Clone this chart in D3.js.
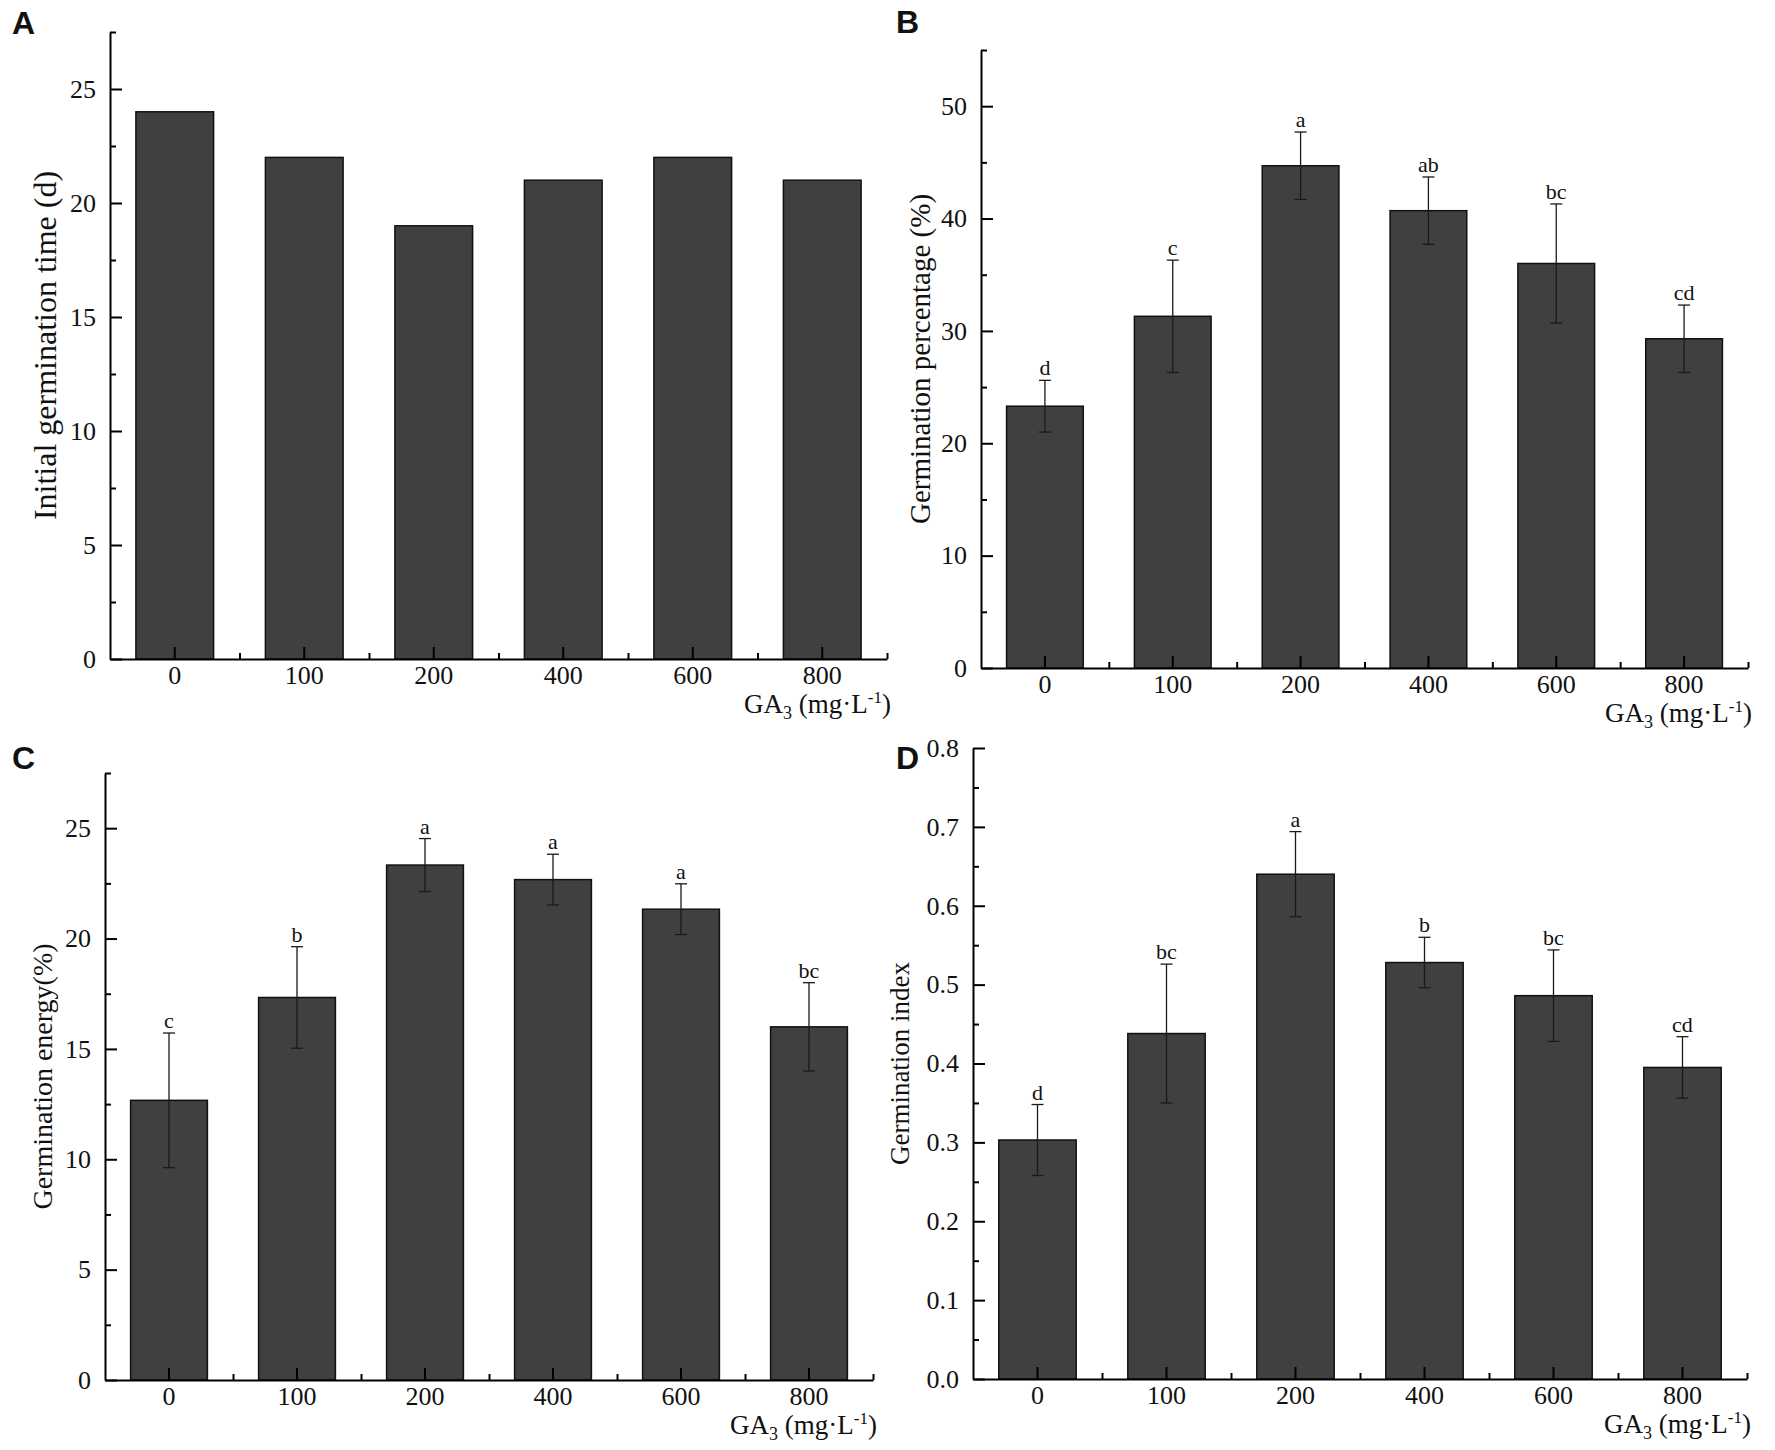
<!DOCTYPE html>
<html>
<head>
<meta charset="utf-8">
<script src="https://cdn.jsdelivr.net/npm/d3@7"></script>
<style>
  body { margin: 0; background: #fff; }
  text { font-family: "Liberation Serif", "Times New Roman", serif; fill: #111; }
  .panel-label { font-family: "Liberation Sans", Arial, sans-serif; font-weight: bold; font-size: 32px; }
</style>
</head>
<body>
<div id="chart-area"></div>
<script>
// GA3 dose categories
var doses = ["0", "100", "200", "400", "600", "800"];

// A: initial germination time (d)
var initialTime = [24, 22, 19, 21, 22, 21];
var ticksA = [0, 5, 10, 15, 20, 25];

// B: germination percentage (%)
var germPercent = [23.3, 31.3, 44.7, 40.7, 36.0, 29.3];
var germPercentErr = [2.3, 5.0, 3.0, 3.0, 5.3, 3.0];
var germPercentLetters = ["d", "c", "a", "ab", "bc", "cd"];
var ticksB = [0, 10, 20, 30, 40, 50];

// C: germination energy (%)
var germEnergy = [12.67, 17.33, 23.33, 22.67, 21.33, 16.0];
var germEnergyErr = [3.05, 2.3, 1.2, 1.15, 1.15, 2.0];
var germEnergyLetters = ["c", "b", "a", "a", "a", "bc"];
var ticksC = [0, 5, 10, 15, 20, 25];

// D: germination index
var germIndex = [0.303, 0.438, 0.64, 0.528, 0.486, 0.395];
var germIndexErr = [0.045, 0.088, 0.054, 0.032, 0.058, 0.039];
var germIndexLetters = ["d", "bc", "a", "b", "bc", "cd"];
var ticksD = [0, 0.1, 0.2, 0.3, 0.4, 0.5, 0.6, 0.7, 0.8];

var width = 1775;
var height = 1450;

var svg = d3.select("#chart-area")
    .append("svg")
    .attr("width", width)
    .attr("height", height);

function drawPanel(p) {
    var g = svg.append("g");

    var x = d3.scaleBand()
        .domain(doses)
        .range([p.x0, p.x1])
        .paddingInner(0.4)
        .paddingOuter(0.2);

    var y = d3.scaleLinear()
        .domain([0, p.ymax])
        .range([p.yb, p.yt]);

    // bars
    g.selectAll("rect.bar")
        .data(p.values)
        .enter()
        .append("rect")
        .attr("class", "bar")
        .attr("x", function(d, i) { return x(doses[i]); })
        .attr("y", function(d) { return y(d); })
        .attr("width", x.bandwidth())
        .attr("height", function(d) { return y(0) - y(d); })
        .attr("fill", "#404040")
        .attr("stroke", "#111")
        .attr("stroke-width", 1.5);

    // error bars
    if (p.errors) {
        var cap = 6;
        var eb = g.selectAll("g.err")
            .data(p.values)
            .enter()
            .append("g")
            .attr("class", "err")
            .attr("stroke", "#1a1a1a")
            .attr("stroke-width", 1.3);
        eb.append("line")
            .attr("x1", function(d, i) { return x(doses[i]) + x.bandwidth() / 2; })
            .attr("x2", function(d, i) { return x(doses[i]) + x.bandwidth() / 2; })
            .attr("y1", function(d, i) { return y(d - p.errors[i]); })
            .attr("y2", function(d, i) { return y(d + p.errors[i]); });
        eb.append("line")
            .attr("x1", function(d, i) { return x(doses[i]) + x.bandwidth() / 2 - cap; })
            .attr("x2", function(d, i) { return x(doses[i]) + x.bandwidth() / 2 + cap; })
            .attr("y1", function(d, i) { return y(d + p.errors[i]); })
            .attr("y2", function(d, i) { return y(d + p.errors[i]); });
        eb.append("line")
            .attr("x1", function(d, i) { return x(doses[i]) + x.bandwidth() / 2 - cap; })
            .attr("x2", function(d, i) { return x(doses[i]) + x.bandwidth() / 2 + cap; })
            .attr("y1", function(d, i) { return y(d - p.errors[i]); })
            .attr("y2", function(d, i) { return y(d - p.errors[i]); });

        g.selectAll("text.sig")
            .data(p.letters)
            .enter()
            .append("text")
            .attr("class", "sig")
            .attr("x", function(d, i) { return x(doses[i]) + x.bandwidth() / 2; })
            .attr("y", function(d, i) { return y(p.values[i] + p.errors[i]) - 5; })
            .attr("text-anchor", "middle")
            .style("font-size", "22px")
            .text(function(d) { return d; });
    }

    // y axis: major + minor ticks pointing inward
    var minorY = [];
    for (var k = 0; k < p.ticks.length; k++) {
        minorY.push(p.ticks[k] + p.step / 2);
    }
    g.append("g")
        .attr("transform", "translate(" + p.x0 + ",0)")
        .call(d3.axisLeft(y).tickValues(minorY.filter(function(v) { return v <= p.ymax + 1e-9; }))
            .tickSize(-6).tickSizeOuter(0).tickFormat(""))
        .call(function(a) { a.select(".domain").remove(); });

    g.append("g")
        .attr("transform", "translate(" + p.x0 + ",0)")
        .call(d3.axisLeft(y).tickValues(p.ticks).tickSize(-12).tickSizeOuter(0)
            .tickPadding(14).tickFormat(p.fmt));

    // x axis
    var idx = d3.scaleLinear().domain([0, doses.length]).range([p.x0, p.x1]);
    g.append("g")
        .attr("transform", "translate(0," + p.yb + ")")
        .call(d3.axisBottom(idx).tickValues([1, 2, 3, 4, 5, 6])
            .tickSize(-6).tickSizeOuter(0).tickFormat(""))
        .call(function(a) { a.select(".domain").remove(); });

    g.append("g")
        .attr("transform", "translate(0," + p.yb + ")")
        .call(d3.axisBottom(x).tickSize(-12).tickSizeOuter(0).tickPadding(7));

    g.selectAll(".domain, .tick line")
        .attr("stroke", "#000")
        .attr("stroke-width", 2);
    g.selectAll(".tick text")
        .style("font-family", "'Liberation Serif', 'Times New Roman', serif")
        .style("font-size", "26px")
        .attr("fill", "#111");

    // y title
    g.append("text")
        .attr("transform", "translate(" + p.titleX + "," + ((p.yt + p.yb) / 2) + ") rotate(-90)")
        .attr("text-anchor", "middle")
        .style("font-size", p.titleSize + "px")
        .text(p.title);

    // x title: GA3 (mg·L-1)
    var xt = g.append("text")
        .attr("x", p.x1 + 4)
        .attr("y", p.yb + 54)
        .attr("text-anchor", "end")
        .style("font-size", "27px");
    xt.append("tspan").text("GA");
    xt.append("tspan").attr("dy", 6).style("font-size", "18px").text("3");
    xt.append("tspan").attr("dy", -6).text(" (mg·L");
    xt.append("tspan").attr("dy", -10).style("font-size", "17px").text("-1");
    xt.append("tspan").attr("dy", 10).text(")");

    // panel letter
    svg.append("text")
        .attr("class", "panel-label")
        .attr("x", p.labelX)
        .attr("y", p.labelY)
        .text(p.label);
}

drawPanel({
    label: "A", labelX: 12, labelY: 34,
    x0: 110, x1: 887, yt: 32, yb: 659, ymax: 27.5, step: 5,
    ticks: ticksA, fmt: d3.format("d"),
    values: initialTime,
    title: "Initial germination time (d)", titleX: 56, titleSize: 32
});

drawPanel({
    label: "B", labelX: 896, labelY: 33,
    x0: 981, x1: 1748, yt: 50, yb: 668, ymax: 55, step: 10,
    ticks: ticksB, fmt: d3.format("d"),
    values: germPercent, errors: germPercentErr, letters: germPercentLetters,
    title: "Germination percentage (%)", titleX: 930, titleSize: 29
});

drawPanel({
    label: "C", labelX: 12, labelY: 769,
    x0: 105, x1: 873, yt: 773, yb: 1380, ymax: 27.5, step: 5,
    ticks: ticksC, fmt: d3.format("d"),
    values: germEnergy, errors: germEnergyErr, letters: germEnergyLetters,
    title: "Germination energy(%)", titleX: 52, titleSize: 28
});

drawPanel({
    label: "D", labelX: 896, labelY: 769,
    x0: 973, x1: 1747, yt: 748, yb: 1379, ymax: 0.8, step: 0.1,
    ticks: ticksD, fmt: d3.format(".1f"),
    values: germIndex, errors: germIndexErr, letters: germIndexLetters,
    title: "Germination index", titleX: 909, titleSize: 27
});
</script>
</body>
</html>
